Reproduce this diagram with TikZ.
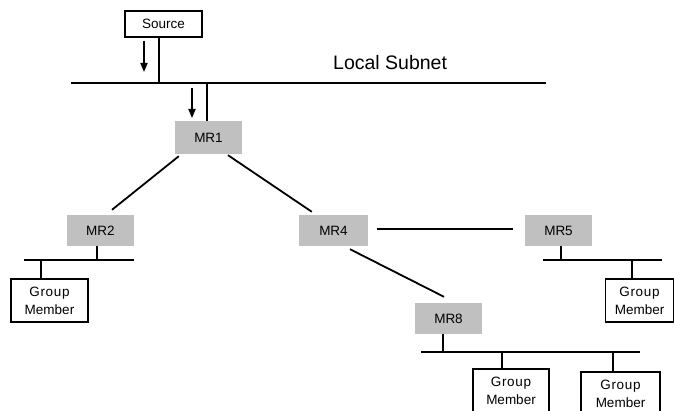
\documentclass[tikz,border=0pt]{standalone}
\usepackage{fontspec}
\setmainfont{Liberation Sans}
\usetikzlibrary{arrows.meta,calc}
\definecolor{routergray}{RGB}{192,192,192}
\tikzset{
  wire/.style={line width=1.8pt},
  router/.style={fill=routergray, inner sep=0pt, minimum width=67pt, minimum height=31pt,
                 font=\fontsize{13.5}{16}\selectfont},
  hostbox/.style={draw, line width=1.8pt, inner sep=0pt, minimum width=77pt, minimum height=43pt,
                  align=center, font=\fontsize{13.5}{18}\selectfont},
  flow/.style={line width=1.8pt, -{Triangle[length=9pt,width=7pt]}},
}
\newcommand{\gm}{{\addfontfeature{LetterSpace=5}Group}\\Member}
\begin{document}
\begin{tikzpicture}[x=1pt,y=-1pt]
\useasboundingbox (0,0) rectangle (674,411);

% source host and the local subnet
\node[draw, line width=1.8pt, inner sep=0pt, minimum width=77pt, minimum height=26pt,
      font=\fontsize{13.5}{16}\selectfont] (src) at (163.5,24) {Source};
\coordinate (lanL) at (71,83);
\coordinate (lanR) at (546,83);
\draw[wire] (lanL) -- (lanR);
\node[anchor=base west, inner sep=0pt, font=\fontsize{19.5}{22}\selectfont] (lanlabel) at (333,70) {Local Subnet};
\coordinate (srcTap) at (159,83);
\draw[wire] (src.south -| srcTap) -- (srcTap);
\coordinate (a1s) at (144,41);
\coordinate (a1e) at (144,72);
\draw[flow] (a1s) -- (a1e);

% multicast routers
\node[router, minimum height=33pt] (mr1) at (208.5,137.5) {MR1};
\node[router] (mr2) at (100.5,230.5) {MR2};
\node[router, minimum width=69pt] (mr4) at (333.5,230.5) {MR4};
\node[router] (mr5) at (558.5,230.5) {MR5};
\node[router] (mr8) at (448.5,318.5) {MR8};

\coordinate (mr1Tap) at (207,83);
\draw[wire] (mr1Tap) -- (mr1.north -| mr1Tap);
\coordinate (a2s) at (192,88);
\coordinate (a2e) at (192,118);
\draw[flow] (a2s) -- (a2e);

% router links
\draw[wire] ($(mr1.south west)+(4,2)$) -- ($(mr2.north)+(11.5,-5)$);
\draw[wire] ($(mr1.south)+(19.5,1)$) -- ($(mr4.north west)+(13,-3)$);
\draw[wire] ($(mr4.east)+(9,-1.5)$) -- ($(mr5.west)+(-12,-1.5)$);
\draw[wire] ($(mr4.south)+(16.5,3)$) -- ($(mr8.north)+(-4.5,-6)$);

% group members
\node[hostbox] (gm2) at (49.5,300.5) {\gm};
\node[hostbox, minimum width=68pt] (gm5) at (639.5,300.5) {\gm};
\node[hostbox, minimum width=76pt] (gm8a) at (511,390.5) {\gm};
\node[hostbox, minimum width=79pt] (gm8b) at (620.5,393.5) {\gm};

% subnet of MR2
\coordinate (b2L) at (24,260);
\coordinate (b2R) at (134,260);
\draw[wire] (b2L) -- (b2R);
\coordinate (b2r) at (97,260);
\draw[wire] (mr2.south -| b2r) -- (b2r);
\coordinate (b2h) at (41,260);
\draw[wire] (b2h) -- (gm2.north -| b2h);

% subnet of MR5
\coordinate (b5L) at (543,260);
\coordinate (b5R) at (662,260);
\draw[wire] (b5L) -- (b5R);
\coordinate (b5r) at (561,260);
\draw[wire] (mr5.south -| b5r) -- (b5r);
\coordinate (b5h) at (632,260);
\draw[wire] (b5h) -- (gm5.north -| b5h);

% subnet of MR8
\coordinate (b8L) at (421,352);
\coordinate (b8R) at (640,352);
\draw[wire] (b8L) -- (b8R);
\coordinate (b8r) at (443,352);
\draw[wire] (mr8.south -| b8r) -- (b8r);
\coordinate (b8h1) at (502,352);
\draw[wire] (b8h1) -- (gm8a.north -| b8h1);
\coordinate (b8h2) at (613,352);
\draw[wire] (b8h2) -- (gm8b.north -| b8h2);
\end{tikzpicture}
\end{document}
